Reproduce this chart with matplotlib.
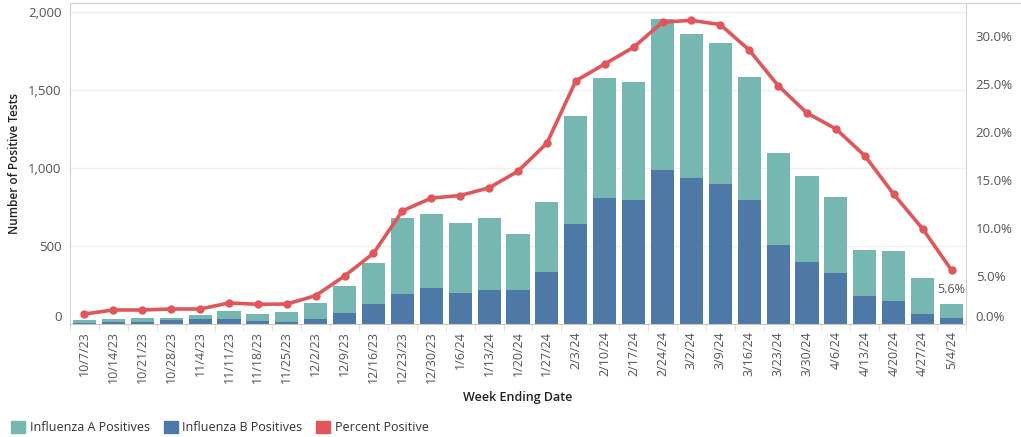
import matplotlib.pyplot as plt
import matplotlib.patches as mpatches
import numpy as np

plt.rcParams['font.family'] = ['Open Sans', 'DejaVu Sans']

weeks = ['10/7/23', '10/14/23', '10/21/23', '10/28/23', '11/4/23', '11/11/23',
         '11/18/23', '11/25/23', '12/2/23', '12/9/23', '12/16/23', '12/23/23',
         '12/30/23', '1/6/24', '1/13/24', '1/20/24', '1/27/24', '2/3/24',
         '2/10/24', '2/17/24', '2/24/24', '3/2/24', '3/9/24', '3/16/24',
         '3/23/24', '3/30/24', '4/6/24', '4/13/24', '4/20/24', '4/27/24', '5/4/24']

# total positives (A + B) and B positives
total_pos = [25, 32, 38, 38, 58, 83, 64, 77, 135, 244, 391, 680, 705, 647, 680, 577,
             782, 1333, 1577, 1551, 1955, 1859, 1801, 1583, 1096, 949, 814, 474,
             468, 295, 128]
flu_b = [8, 13, 14, 26, 32, 32, 19, 13, 32, 71, 128, 192, 231, 199, 218, 218,
         333, 641, 808, 795, 987, 936, 897, 795, 506, 397, 327, 179, 147, 64, 38]
pct_pos = [1.04, 1.46, 1.46, 1.56, 1.56, 2.19, 2.05, 2.08, 2.95, 5.0, 7.36, 11.77,
           13.1, 13.37, 14.17, 15.9, 18.82, 25.3, 27.05, 28.8, 31.4, 31.6, 31.15,
           28.5, 24.8, 21.95, 20.3, 17.5, 13.5, 9.9, 5.6]

flu_a = [t - b for t, b in zip(total_pos, flu_b)]

teal = '#76B7B2'
blue = '#4E79A7'
red = '#E15759'
txt = '#555555'

W, H = 1021, 437
fig = plt.figure(figsize=(W / 100, H / 100), dpi=100)
ax = fig.add_axes([70 / W, 1 - 324 / H, (966 - 70) / W, (324 - 3) / H])

x = np.arange(len(weeks))
ax.bar(x, flu_b, width=0.8, color=blue, zorder=2)
ax.bar(x, flu_a, width=0.8, bottom=flu_b, color=teal, zorder=2)

ax.set_xlim(-0.5, len(weeks) - 0.5)
ax.set_ylim(0, 2058)
ax.set_yticks([0, 500, 1000, 1500, 2000])
ax.set_yticklabels(['0', '500', '1,000', '1,500', '2,000'], fontsize=9.5, color=txt)
ax.yaxis.grid(True, color='#efefef', linewidth=1, zorder=0)
ax.tick_params(axis='y', length=0, pad=6)
ax.get_yticklabels()[0].set_va('bottom')

ax.set_xticks(x)
ax.set_xticklabels(weeks, rotation=90, fontsize=9, color=txt)
ax.set_xticks(np.arange(len(weeks) + 1) - 0.5, minor=True)
ax.tick_params(axis='x', which='major', length=0, pad=5)
ax.tick_params(axis='x', which='minor', length=5, color='#dddddd')

for s in ['top', 'right']:
    ax.spines[s].set_visible(False)
ax.spines['left'].set_color('#d4d4d4')
ax.spines['bottom'].set_color('#c8c8c8')

ax.set_ylabel('Number of Positive Tests', fontsize=8.5, color='#222222',
              fontweight='semibold')
ax.yaxis.set_label_coords((21 - 70) / 896, 0.5)
ax.set_xlabel('Week Ending Date', fontsize=9, color='#222222',
              fontweight='semibold', labelpad=6)

ax2 = ax.twinx()
ax2.plot(x, pct_pos, color=red, linewidth=2.6, marker='o', markersize=5, zorder=3)
ax2.set_ylim(0, 33.4)
ax2.set_yticks([0, 5, 10, 15, 20, 25, 30])
ax2.set_yticklabels(['%.1f%%' % v for v in [0, 5, 10, 15, 20, 25, 30]],
                    fontsize=9.5, color=txt)
ax2.tick_params(axis='y', length=0, pad=7)
ax2.get_yticklabels()[0].set_va('bottom')
for s in ['top', 'left', 'bottom']:
    ax2.spines[s].set_visible(False)
ax2.spines['right'].set_color('#d4d4d4')

ax2.annotate('5.6%', (x[-1], pct_pos[-1]), xytext=(0, -14), textcoords='offset points',
             ha='center', va='center', fontsize=9, color=txt)

# top border line
fig.add_artist(plt.Line2D([70 / W, 1.0], [1 - 3 / H, 1 - 3 / H], color='#d4d4d4',
                          linewidth=1))

handles = [mpatches.Patch(color=teal, label='Influenza A Positives'),
           mpatches.Patch(color=blue, label='Influenza B Positives'),
           mpatches.Patch(color=red, label='Percent Positive')]
fig.legend(handles=handles, loc='lower left', bbox_to_anchor=(0.0, -0.02), ncol=3,
           frameon=False, fontsize=9, handlelength=1.1, handleheight=1.1,
           handletextpad=0.4, columnspacing=1.1, labelcolor='#333333')

fig.savefig('out.png', dpi=100)
